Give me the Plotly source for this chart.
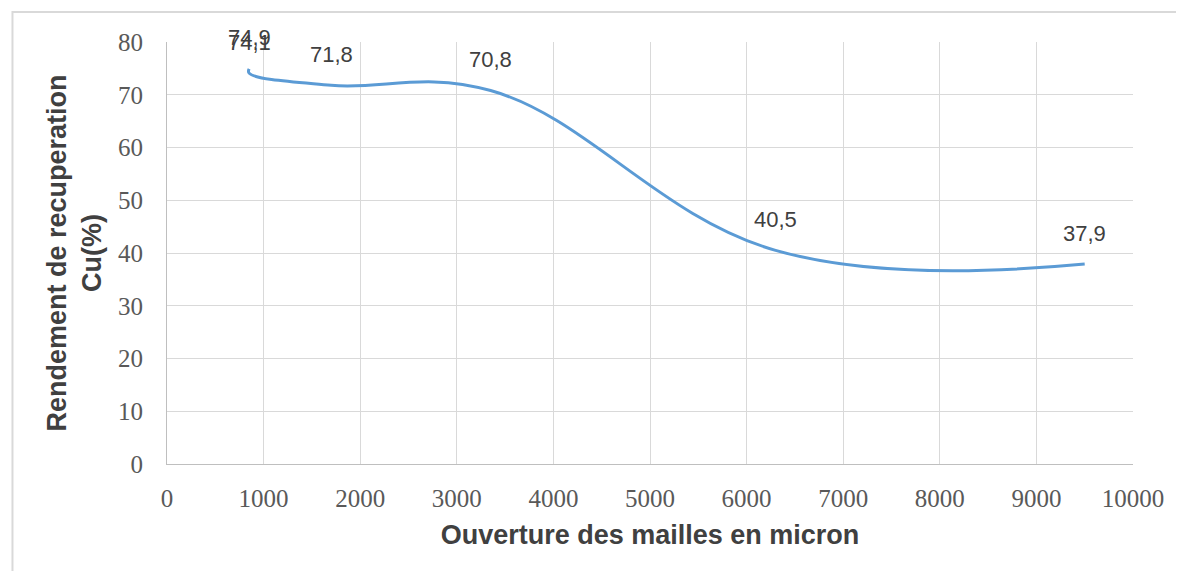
import plotly.graph_objects as go

# Data
ouverture = [850, 850, 1700, 3350, 6300, 9500]          # mesh opening (micron)
rendement = [74.9, 74.1, 71.8, 70.8, 40.5, 37.9]        # Cu recovery (%)
x_ticks = [0, 1000, 2000, 3000, 4000, 5000, 6000, 7000, 8000, 9000, 10000]
y_ticks = [0, 10, 20, 30, 40, 50, 60, 70, 80]

# page body has an 8px margin -> work in figure coords (reference px - 8)
OFF = 8
W, H = 1184 - 2 * OFF, 579 - 2 * OFF
L, R, T, B = 167 - OFF, 1136 - OFF, 42 - OFF, 464 - OFF

fig = go.Figure()
fig.add_trace(go.Scatter(
    x=ouverture, y=rendement, mode="lines",
    line=dict(color="#5b9bd5", width=3, shape="spline", smoothing=1.15),
    hoverinfo="x+y", showlegend=False,
))

for xv, yv in zip(ouverture, rendement):
    fig.add_annotation(
        x=xv, y=yv, text=f"{yv:.1f}".replace(".", ","),
        showarrow=False, yshift=31, xanchor="center", yanchor="middle",
        font=dict(family="Liberation Sans", size=22, color="#404040"),
    )

pw, ph = R - L, B - T
fig.add_shape(
    type="rect", xref="paper", yref="paper",
    x0=(12 - OFF - L) / pw, x1=(1200 - L) / pw,
    y0=(B - 600) / ph, y1=(B - (12 - OFF)) / ph,
    line=dict(color="#d9d9d9", width=2), fillcolor="rgba(0,0,0,0)", layer="below",
)

fig.update_layout(
    width=W, height=H,
    margin=dict(l=L, r=W - R, t=T, b=H - B),
    paper_bgcolor="white", plot_bgcolor="white",
    xaxis=dict(
        range=[0, 10000], tickvals=x_ticks, ticktext=[str(v) for v in x_ticks],
        showgrid=True, gridcolor="#d9d9d9", gridwidth=1,
        showline=True, linecolor="#bfbfbf", linewidth=1, mirror=False,
        zeroline=False, ticks="", ticklabelstandoff=12,
        tickfont=dict(family="Liberation Serif", size=25, color="#595959"),
        title=dict(text="<b>Ouverture des mailles en micron</b>", standoff=14,
                   font=dict(family="Liberation Sans", size=27, color="#404040")),
    ),
    yaxis=dict(
        range=[0, 80], tickvals=y_ticks, ticktext=[str(v) for v in y_ticks],
        showgrid=True, gridcolor="#d9d9d9", gridwidth=1,
        showline=True, linecolor="#bfbfbf", linewidth=1,
        zeroline=False, ticks="", ticklabelstandoff=18,
        tickfont=dict(family="Liberation Serif", size=25, color="#595959"),
        title=dict(text="<b>Rendement de recuperation<br>Cu(%)</b>", standoff=8,
                   font=dict(family="Liberation Sans", size=27, color="#404040")),
    ),
)

fig.write_html("out.html")
